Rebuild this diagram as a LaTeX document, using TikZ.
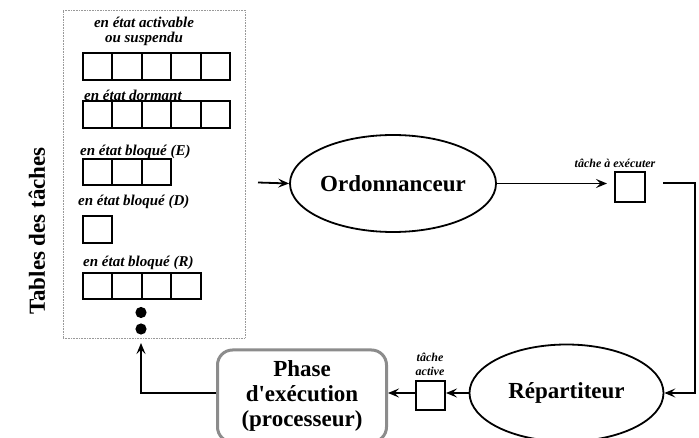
\documentclass[tikz,border=0pt]{standalone}
\usepackage{fontspec}
\setmainfont{Liberation Serif}
\usetikzlibrary{shapes.geometric,arrows.meta}

\tikzset{
  cell/.style={draw, line width=2pt, minimum width=29.4pt, minimum height=26.5pt, inner sep=0pt},
  lbl/.style={font=\fontsize{15}{15}\selectfont\bfseries\itshape, inner sep=0pt, align=center},
  smalllbl/.style={font=\fontsize{12}{14}\selectfont\bfseries\itshape, inner sep=0pt, align=center},
  big/.style={font=\fontsize{23}{25}\selectfont\bfseries, align=center},
  oval/.style={ellipse, draw, line width=1.8pt, minimum width=194pt, minimum height=97pt, inner sep=0pt, big},
  flow/.style={line width=1.8pt, -{Stealth[length=11pt,width=9pt,inset=4.5pt]}},
}

\begin{document}
\begin{tikzpicture}[x=1pt, y=-1pt]
\useasboundingbox (0,0) rectangle (699,438);
\clip (0,0) rectangle (699,438);

% task tables frame
\node[draw=gray!80, line width=0.9pt, dash pattern=on 0.8pt off 0.8pt, minimum width=182pt, minimum height=328pt, inner sep=0pt] (tab) at (154,174) {};
\node[big, rotate=90] (title) at (37,231) {Tables des tâches};

% activable / suspended
\node[lbl] (l1) at (144,31.5) {en état activable\\ou suspendu};
\foreach \i in {1,...,5} \node[cell] (a\i) at ({83+29.4*(\i-0.5)},66.5) {};
% dormant
\node[lbl, anchor=west] (l2) at (84,95) {en état dormant};
\foreach \i in {1,...,5} \node[cell] (b\i) at ({83+29.4*(\i-0.5)},114.5) {};
% blocked (E)
\node[lbl, anchor=west] (l3) at (80,152) {en état bloqué (E)};
\foreach \i in {1,...,3} \node[cell] (c\i) at ({83+29.4*(\i-0.5)},172) {};
% blocked (D)
\node[lbl, anchor=west] (l4) at (78,202) {en état bloqué (D)};
\node[cell] (d1) at (97.7,229.5) {};
% blocked (R)
\node[lbl, anchor=west] (l5) at (83,263) {en état bloqué (R)};
\foreach \i in {1,...,4} \node[cell] (e\i) at ({83+29.4*(\i-0.5)},286) {};
% continuation dots
\fill (141,312.5) circle (5.6pt);
\fill (141,329) circle (5.6pt);

% scheduler and dispatcher
\node[oval] (ord) at (393,183.5) {Ordonnanceur};
\node[oval] (rep) at (566.5,393) {Répartiteur};

% task to run
\node[cell, minimum width=30pt, minimum height=30pt] (run) at (630,187) {};
\node[smalllbl] (runl) at (615,163) {tâche à exécuter};

% active task
\node[cell, minimum width=29pt, minimum height=29pt] (act) at (430.5,395.5) {};
\node[smalllbl, font=\fontsize{12}{14.5}\selectfont\bfseries\itshape] (actl) at (430,364.5) {tâche\\active};

% execution phase
\node[draw=gray!90, line width=3pt, rounded corners=15pt, minimum width=169pt, minimum height=92pt, big] (exe) at (302,396) {Phase\\d\textquotesingle exécution\\(processeur)};

% connectors
\coordinate (in) at (258,182.5);
\coordinate (out) at (663,183);
\coordinate (corner) at (695,183);
\coordinate (back) at (141,343);
\draw[flow] (in) -- (ord.west);
\draw[flow, shorten >=7pt] (ord.east) -- (ord.east -| run.west);
\draw[flow] (out) -- (corner) |- (rep.east);
\draw[flow] (rep.west) -- (act.east |- rep.west);
\draw[flow] (act.west |- rep.west) -- (exe.east |- rep.west);
\draw[flow] (exe.west |- rep.west) -| (back);
\end{tikzpicture}
\end{document}
